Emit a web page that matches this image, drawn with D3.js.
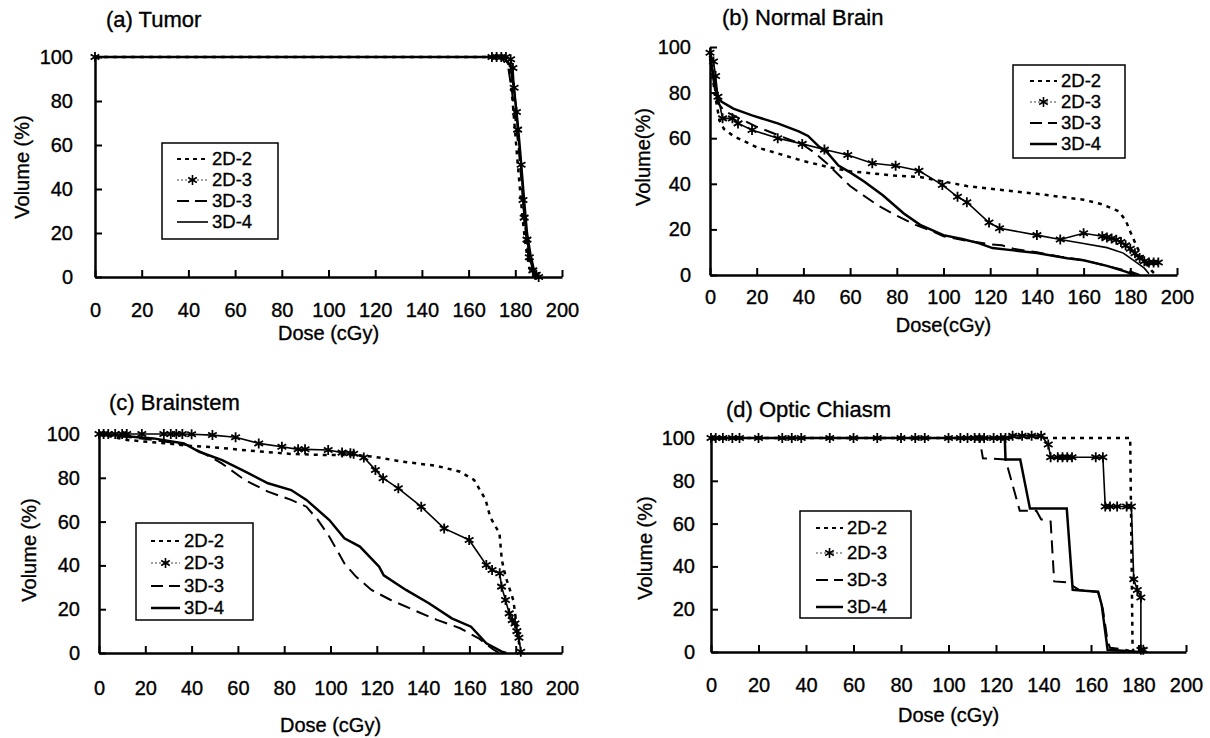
<!DOCTYPE html>
<html>
<head>
<meta charset="utf-8">
<script src="https://cdn.jsdelivr.net/npm/d3@7"></script>
<style>
body { margin: 0; background: #fff; }
text { font-family: "Liberation Sans", Arial, sans-serif; fill: #000; stroke: #000; stroke-width: 0.35px; }
</style>
</head>
<body>
<svg id="chart" width="1210" height="738"></svg>
<script>
// series names and tick values
var seriesNames = ["2D-2", "2D-3", "3D-3", "3D-4"];
var doseTicks = [0, 20, 40, 60, 80, 100, 120, 140, 160, 180, 200];
var volumeTicks = [0, 20, 40, 60, 80, 100];

// (a) Tumor  -- [dose cGy, volume %]
var tumor2D2 = [[0,100],[175,100],[177,97],[178,90],[179,78],[180,65],[181,52],[182,40],[183,28],[184,18],[185,10],[186,4],[188,0]];
var tumor2D3 = [[0,100],[170,100],[172,100],[174,100],[176,100],[178,99],[179,95],[179.5,86],[180.5,75],[181,67],[182.5,51],[183.3,35],[183.8,27],[185,17],[186,9],[187.5,3],[189,1],[190,0]];
var tumor3D3 = [[0,100],[174,100],[177,95],[178.5,85],[180,72],[181.5,58],[182.5,45],[183.5,32],[184.5,20],[185.5,10],[187,3],[189,0]];
var tumor3D4 = [[0,100],[175,100],[178,96],[179.5,85],[181,70],[182,58],[183,45],[184,32],[185,20],[186.5,10],[188,3],[190,0]];

// (b) Normal Brain
var brain2D2 = [[0,96],[2,80],[4,68],[6,64],[10,61],[20,56],[30,53],[40,50],[50,47.5],[60,45.5],[70,44.5],[80,43.5],[90,43],[100,41],[110,39],[125,37.3],[140,35.6],[150,34.3],[160,33],[168,31],[175,28],[178,24],[180,19],[183,12],[186,6],[189,2],[191,0]];
var brain2D3 = [[0,97.5],[1.5,93.6],[2.4,87.3],[3.4,78.2],[5.4,68.7],[9.6,68.7],[12,66.5],[18,63.6],[29,60],[39.5,57.5],[49,55],[59,52.6],[69.5,49],[79.5,47.9],[89.5,45.7],[99.5,39.5],[106,34.3],[110,31.9],[119.5,23],[124,20.5],[140,17.5],[150,15.6],[160,18.3],[168,17],[170,16.5],[172,16],[174,15.5],[176,14.5],[178,13],[180,11.5],[182,9.5],[184,7.5],[186,6],[188,5.5],[190,5.5],[192,5.5]];
var brain2D3Tail = [[150,15.6],[160,13.8],[170,12],[177,9.6],[182,6],[186,3],[188,0.5]];
var brain3D3 = [[0,95],[2,82],[3,76],[6,72],[10,70],[20,65],[30,61],[40,57],[45,53.5],[50,49],[55,44],[60,39],[67,34],[72,30.5],[78,27],[88,22],[94,19.7],[100,17],[110,15],[120,13.5],[125,13],[130,11.5],[140,10],[150,8],[160,6.5],[170,4],[180,1.5],[184,0]];
var brain3D4 = [[0,96],[2,85],[3,78],[5,76],[10,73],[18,70],[29,66.5],[38,63],[42,61],[47,56],[50,54],[55,48],[60,45],[66,41],[74,35],[83,27],[90,22],[100,17.5],[108,15.8],[115,14],[121,11.8],[130,10.8],[140,9.6],[153,7.3],[160,6.5],[170,4],[178,1.5],[182,0]];

// (c) Brainstem
var stem2D2 = [[0,100],[12,97.3],[32,95.4],[40,94.5],[50,93.9],[65,92.4],[83,90.9],[98,90.4],[111,90.4],[119,89.6],[131,87.4],[146,85.4],[156,82.8],[162,79],[167,70],[169,62],[173,54.6],[174,42.5],[175.6,35],[179,24],[180.5,12],[182,0]];
var stem2D3 = [[0,100],[2,100],[4,100],[7,100],[10,100],[12,100],[18.5,100],[28,100],[31,100],[33.4,100],[36,100],[40,99.9],[49,99.5],[59,98.5],[69,95.7],[79,94.2],[86,93],[89,93],[99,92.7],[105,91.5],[108.6,91.2],[110,91],[114.4,89.3],[119.4,83.6],[122.7,79.8],[129.3,75.2],[139.2,66.8],[149.1,56.9],[159.9,51.6],[167.3,40.2],[169.8,37.9],[173.1,36.4],[173.9,30.3],[175.6,24.2],[177.2,18.1],[178.5,15],[179.7,13.5],[180.5,10],[181.4,7],[182.2,0.6]];
var stem3D3 = [[0,100],[23.5,97.3],[38,95],[46.6,90.4],[53,86.6],[63,79],[73,73.7],[83,69.9],[89.6,66.8],[94.6,60.7],[99.5,53.1],[102.8,47],[106,40.9],[111,34.9],[117.7,28.8],[126,24.2],[136,19.6],[146,15.1],[156,11.3],[164,6.7],[170.6,1.4],[173,0]];
var stem3D4 = [[0,100],[23.5,98],[36.7,95.7],[43.3,91.9],[53.2,88.1],[63.2,82.8],[73,77.5],[83,74.4],[89.6,69.9],[99.5,60.7],[106,52.4],[112.7,48.6],[121,39.4],[123,35.5],[132.6,28.8],[142.5,22.7],[152.4,15.8],[160.7,12],[167.3,4.4],[174,0.6],[176,0]];

// (d) Optic Chiasm
var chiasm2D2 = [[0,100],[176.5,100],[177.5,2],[178,0]];
var chiasm2D3 = [[0,100],[2,100],[5,100],[9,100],[12,100],[20,100],[30,100],[34,100],[38,100],[50,100],[60,100],[70,100],[80,100],[86,100],[90,100],[100,100],[105,100],[108,100],[111,100],[113,100],[115,100],[119,100],[122,100],[124,100],[127,101],[131,101],[135,101],[139,101],[142,97],[143,91],[146,91],[148,91],[150,91],[152,91],[162,91],[165,91],[166,68],[168,68],[171,68],[175,68],[177,68],[178,34],[179.5,29],[181,25.5],[181,1],[182,1]];
var chiasm3D3 = [[0,100],[113,100],[114.5,90.5],[124,90],[130,66],[137,66],[139,62],[143,61],[144.5,33],[150,32.5],[155,29],[163,28],[165,20],[167,5],[168,2],[175,1],[178,0]];
var chiasm3D4 = [[0,100],[123.7,100],[124,90],[130.2,90],[134.3,67],[149.8,67],[152.3,29],[163,28.2],[164.5,22],[167,1],[175,0.5],[180,0]];

// line looks
var lineStyle = {
	"2D-2": {dash: "4,5", width: 2.5},
	"2D-3": {dash: null, width: 1.6, marker: true},
	"3D-3": {dash: "13,7", width: 2},
	"3D-4": {dash: null, width: 2.5}
};
var legendStyle = {
	"2D-2": {dash: "4,4", width: 2},
	"2D-3": {dash: "2,2", width: 1.2, marker: true},
	"3D-3": {dash: "12,6", width: 2},
	"3D-4": {dash: null, width: 2.5}
};

var panels = [
	{title: "(a) Tumor", tx: 106, ty: 27, x0: 95, x1: 562, yTop: 57, yBot: 277,
	 ylab: "Volume (%)", ylx: 22, yly: 167, xlab: "Dose (cGy)", xly: 340, xPad: 26, yPad: 22,
	 data: {"2D-2": tumor2D2, "2D-3": tumor2D3, "3D-3": tumor3D3, "3D-4": tumor3D4},
	 legend: {x: 162, y: 143, w: 116, h: 96, rows: [159, 180, 201, 222], s0: 177, s1: 208, t: 212, thin: true}},
	{title: "(b) Normal Brain", tx: 722, ty: 25, x0: 710, x1: 1177, yTop: 47, yBot: 275,
	 ylab: "Volume(%)", ylx: 643, yly: 157, xlab: "Dose(cGy)", xly: 332, xPad: 15, yPad: 19,
	 data: {"2D-2": brain2D2, "2D-3": brain2D3, "3D-3": brain3D3, "3D-4": brain3D4}, tail: brain2D3Tail,
	 legend: {x: 1013, y: 65, w: 112, h: 93, rows: [81, 102, 123, 144], s0: 1030, s1: 1057, t: 1061}},
	{title: "(c) Brainstem", tx: 109, ty: 410, x0: 99, x1: 562, yTop: 434, yBot: 653,
	 ylab: "Volume (%)", ylx: 29, yly: 550, xlab: "Dose (cGy)", xly: 732, xPad: 28, yPad: 19,
	 data: {"2D-2": stem2D2, "2D-3": stem2D3, "3D-3": stem3D3, "3D-4": stem3D4},
	 legend: {x: 136, y: 523, w: 117, h: 97, rows: [541, 563, 586, 608], s0: 151, s1: 180, t: 184}},
	{title: "(d) Optic Chiasm", tx: 726, ty: 417, x0: 711, x1: 1186, yTop: 438, yBot: 652,
	 ylab: "Volume (%)", ylx: 645, yly: 548, xlab: "Dose (cGy)", xly: 722, xPad: 26, yPad: 16,
	 data: {"2D-2": chiasm2D2, "2D-3": chiasm2D3, "3D-3": chiasm3D3, "3D-4": chiasm3D4},
	 legend: {x: 800, y: 511, w: 111, h: 107, rows: [528, 553, 580, 607], s0: 816, s1: 843, t: 847}}
];

var svg = d3.select("#chart");
var asterisk = d3.symbol().type(d3.symbolAsterisk).size(70);

function styled(sel, st, color) {
	sel.attr("fill", "none")
		.attr("stroke", color || "#000")
		.attr("stroke-width", st.width)
		.attr("stroke-dasharray", st.dash);
	return sel;
}

panels.forEach(function(p) {
	var g = svg.append("g");
	var x = d3.scaleLinear().domain([0, 200]).range([p.x0, p.x1]);
	var y = d3.scaleLinear().domain([0, 100]).range([p.yBot, p.yTop]);
	var line = d3.line().x(function(d) { return x(d[0]); }).y(function(d) { return y(d[1]); });

	// axes, ticks pointing inward
	var xa = g.append("g").attr("transform", "translate(0," + p.yBot + ")")
		.call(d3.axisBottom(x).tickValues(doseTicks).tickSizeInner(-7).tickSizeOuter(0).tickPadding(p.xPad));
	var ya = g.append("g").attr("transform", "translate(" + p.x0 + ",0)")
		.call(d3.axisLeft(y).tickValues(volumeTicks).tickSizeInner(-7).tickSizeOuter(0).tickPadding(p.yPad));
	[xa, ya].forEach(function(a) {
		a.style("font-size", "20px");
		a.select(".domain").attr("stroke-width", 2.5);
		a.selectAll(".tick line").attr("stroke-width", 2);
	});

	// curves
	["2D-2", "3D-3", "3D-4", "2D-3"].forEach(function(name) {
		styled(g.append("path").attr("d", line(p.data[name])), lineStyle[name]);
	});
	if (p.tail) styled(g.append("path").attr("d", line(p.tail)), lineStyle["2D-3"]);
	g.selectAll(".mk").data(p.data["2D-3"]).join("path")
		.attr("class", "mk")
		.attr("d", asterisk)
		.attr("transform", function(d) { return "translate(" + x(d[0]) + "," + y(d[1]) + ")"; })
		.attr("fill", "none").attr("stroke", "#000").attr("stroke-width", 1.8);

	// titles
	g.append("text").attr("x", p.tx).attr("y", p.ty).attr("font-size", 22).text(p.title);
	g.append("text").attr("x", (p.x0 + p.x1) / 2).attr("y", p.xly).attr("text-anchor", "middle")
		.attr("font-size", 20).text(p.xlab);
	g.append("text").attr("transform", "translate(" + p.ylx + "," + p.yly + ") rotate(-90)")
		.attr("text-anchor", "middle").attr("dy", "0.35em").attr("font-size", 20).text(p.ylab);

	// legend
	var L = p.legend;
	g.append("rect").attr("x", L.x).attr("y", L.y).attr("width", L.w).attr("height", L.h)
		.attr("fill", "#fff").attr("stroke", "#000").attr("stroke-width", 1.5);
	seriesNames.forEach(function(name, i) {
		var st = legendStyle[name];
		if (name == "3D-4" && L.thin) st = {dash: null, width: 1.6};
		styled(g.append("line").attr("x1", L.s0).attr("x2", L.s1).attr("y1", L.rows[i]).attr("y2", L.rows[i]),
			st, name == "2D-3" ? "#444" : "#000");
		if (st.marker) {
			g.append("path").attr("d", asterisk)
				.attr("transform", "translate(" + ((L.s0 + L.s1) / 2) + "," + L.rows[i] + ")")
				.attr("fill", "none").attr("stroke", "#000").attr("stroke-width", 1.6);
		}
		g.append("text").attr("x", L.t).attr("y", L.rows[i]).attr("dy", "0.35em")
			.attr("font-size", 18.5).text(name);
	});
});
</script>
</body>
</html>
